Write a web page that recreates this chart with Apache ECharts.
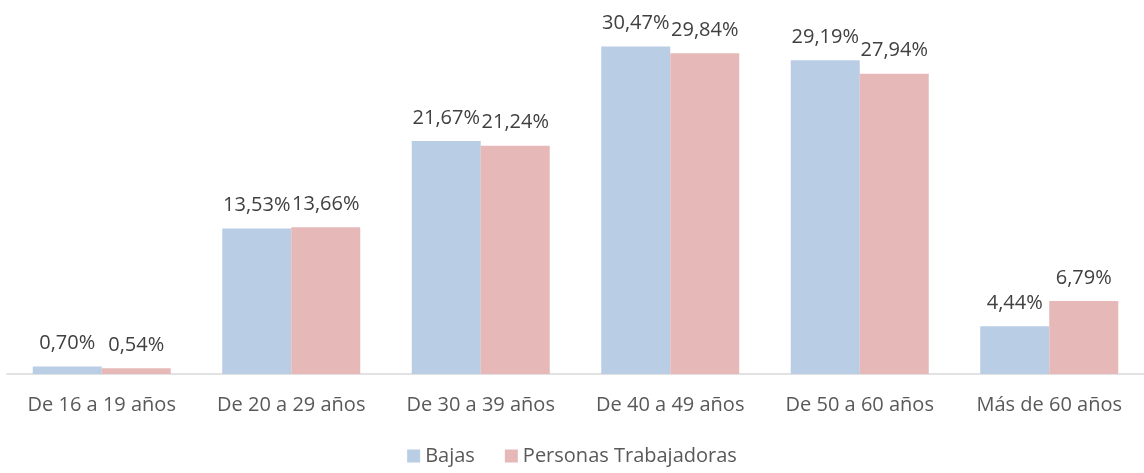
<!DOCTYPE html>
<html>
<head>
<meta charset="utf-8">
<script src="https://cdn.jsdelivr.net/npm/echarts@6/dist/echarts.min.js"></script>
<style>
  html, body { margin: 0; padding: 0; background: #fff; }
  #chart { width: 1144px; height: 473px; }
</style>
</head>
<body>
<div id="chart"></div>
<script>
// ============================= datos ===============================
const categorias = ['De 16 a 19 años', 'De 20 a 29 años', 'De 30 a 39 años', 'De 40 a 49 años', 'De 50 a 60 años', 'Más de 60 años'];
const bajas = [0.70, 13.53, 21.67, 30.47, 29.19, 4.44];
const personasTrabajadoras = [0.54, 13.66, 21.24, 29.84, 27.94, 6.79];

const fuente = '"Open Sans", "Noto Sans", sans-serif';
const gris = '#595959';

function etiqueta(p) {
    return p.value.toFixed(2).replace('.', ',') + '%';
}

// ============================= opciones ===============================
let option = {
    animation: false,
    textStyle: { fontFamily: fuente },
    grid: { left: 7, top: 30, bottom: 99, width: 1143 },
    legend: {
        bottom: 2,
        left: 'center',
        itemWidth: 13,
        itemHeight: 13,
        itemGap: 30,
        icon: 'rect',
        textStyle: { color: gris, fontSize: 20, fontFamily: fuente },
        data: ['Bajas', 'Personas Trabajadoras']
    },
    xAxis: {
        type: 'category',
        data: categorias,
        axisLine: { lineStyle: { color: '#d9d9d9', width: 1.5 } },
        axisTick: { show: false },
        axisLabel: { color: gris, fontSize: 20, margin: 21, interval: 0 }
    },
    yAxis: {
        type: 'value',
        min: 0,
        max: 32,
        show: false,
        splitLine: { show: false }
    },
    series: [
        {
            name: 'Bajas',
            type: 'bar',
            data: bajas,
            barWidth: 69,
            barGap: '0%',
            itemStyle: { color: '#B9CDE5' },
            label: { show: true, position: 'top', distance: 13, color: '#404040', fontSize: 20, formatter: etiqueta }
        },
        {
            name: 'Personas Trabajadoras',
            type: 'bar',
            data: personasTrabajadoras,
            barWidth: 69,
            barGap: '0%',
            itemStyle: { color: '#E6B9B8' },
            label: { show: true, position: 'top', distance: 13, color: '#404040', fontSize: 20, formatter: etiqueta }
        }
    ]
};

echarts.init(document.getElementById('chart')).setOption(option);
</script>
</body>
</html>
